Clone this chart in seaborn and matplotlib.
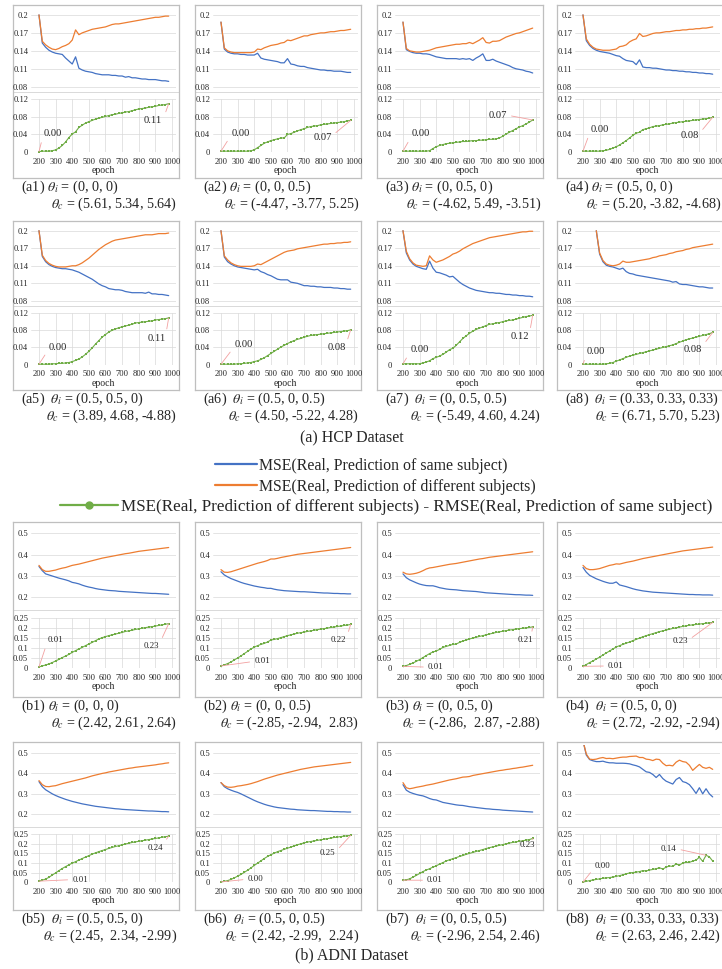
import numpy as np
import pandas as pd
import matplotlib
matplotlib.use("Agg")
import matplotlib.pyplot as plt
import seaborn as sns
from matplotlib.lines import Line2D

sns.set_theme(style="white")
plt.rcParams["font.family"] = ["Liberation Serif", "DejaVu Serif"]
plt.rcParams["mathtext.fontset"] = "stix"

nan = np.nan
epochs = list(range(200, 1000, 20))  # 40 epochs

# ---------------- HCP data ----------------
a1_same = [.200,.153,.146,.141,.138,.136,.135,.134,.128,.123, .118,.130,.111,.108,.106,.105,.104,.102,.101,.100,
           .100,.100,.099,.099,.098,.098,.096,.097,.095,.095, .094,.093,.093,.092,.092,.092,.091,.090,.090,.089]
a1_diff = [.200,.156,.150,.146,.143,.142,.144,.147,.149,.152, .158,.175,.167,.170,.172,.174,.176,.177,.178,.179,
           .180,.182,.184,.185,.185,.186,.187,.188,.189,.190, .191,.192,.193,.194,.195,.196,.196,.197,.198,.198]
a1_gap = [.001,.002,.002,.002,.003,.005,.009,.015,.023,.033, .041,.046,.056,.061,.066,.069,.072,.075,.077,.079,
          .081,.083,.085,.086,.088,.089,.091,.092,.094,.096, .098,.099,.100,.102,.103,.104,.106,.107,.108,.110]

a2_same = [.188,.143,.138,.136,.135,.135,.134,.134,.133,.133, .133,.136,.128,.126,.125,.124,.123,.122,.120,.120,
           .127,.118,.117,.115,.114,.114,.112,.111,.110,.109, .108,.108,.107,.107,.106,.106,.106,.105,.104,.104]
a2_diff = [.188,.145,.140,.138,.137,.137,.137,.137,.137,.137, .138,.143,.142,.145,.147,.149,.150,.151,.153,.154,
           .158,.157,.159,.161,.163,.165,.165,.167,.168,.169, .170,.170,.171,.172,.172,.173,.174,.174,.175,.176]
a2_gap = [.002,.002,.002,.002,.002,.002,.002,.002,.002,.003, .005,.010,.015,.020,.023,.026,.028,.030,.032,.032,
          .040,.042,.045,.048,.051,.053,.056,.058,.059,.060, .062,.063,.064,.065,.066,.067,.068,.069,.071,.072]

a3_same = [.188,.142,.139,.137,.136,.136,.135,.135,.134,.132, .130,.129,.128,.127,.127,.127,.127,.126,.127,.126,
           .127,.124,.128,.131,.135,.124,.124,.126,.123,.121, .119,.117,.115,.112,.110,.109,.108,.106,.105,.103]
a3_diff = [.188,.144,.140,.139,.138,.138,.139,.140,.141,.143, .145,.146,.147,.148,.149,.150,.151,.151,.152,.152,
           .154,.152,.155,.158,.162,.154,.153,.156,.156,.157, .160,.163,.165,.167,.169,.170,.172,.174,.176,.178]
a3_gap = [.002,.002,.002,.002,.002,.002,.002,.002,.003,.008, .012,.015,.017,.019,.020,.021,.022,.023,.024,.024,
          .025,.026,.026,.027,.027,.028,.029,.029,.030,.032, .036,.041,.045,.049,.053,.057,.060,.064,.068,.073]

a4_same = [.200,.157,.149,.144,.141,.139,.138,.137,.136,.134, .132,.131,.127,.124,.123,.122,.117,.125,.113,.112,
           .112,.111,.111,.110,.109,.108,.108,.107,.107,.106, .106,.105,.105,.104,.104,.103,.103,.102,.102,.101]
a4_diff = [.200,.160,.151,.146,.143,.142,.141,.141,.141,.142, .143,.147,.148,.150,.155,.158,.160,.169,.164,.165,
           .167,.169,.170,.170,.171,.172,.172,.173,.174,.174, .175,.175,.176,.176,.177,.177,.178,.178,.179,.180]
a4_gap = [.002,.002,.002,.002,.002,.002,.003,.004,.006,.009, .012,.016,.021,.026,.032,.038,.043,.045,.051,.053,
          .055,.058,.059,.060,.062,.063,.064,.066,.067,.068, .069,.070,.071,.072,.073,.074,.075,.076,.077,.079]

a5_same = [.200,.156,.147,.142,.139,.137,.136,.135,.135,.134, .133,.131,.129,.126,.123,.120,.117,.113,.109,.106,
           .104,.101,.100,.099,.099,.098,.096,.095,.094,.094, .094,.094,.093,.095,.092,.092,.091,.091,.090,.089]
a5_diff = [.200,.158,.149,.144,.141,.139,.138,.138,.138,.139, .140,.140,.142,.145,.149,.153,.158,.163,.168,.172,
           .176,.179,.182,.184,.185,.186,.187,.188,.189,.190, .191,.192,.193,.193,.193,.194,.195,.195,.195,.196]
a5_gap = [.001,.001,.001,.001,.002,.002,.003,.003,.004,.005, .007,.010,.013,.018,.024,.031,.039,.048,.056,.064,
          .070,.076,.080,.083,.086,.088,.090,.092,.094,.097, .098,.099,.100,.101,.102,.104,.105,.106,.107,.109]

a6_same = [.200,.155,.147,.143,.140,.138,.137,.136,.135,.134, .133,.134,.130,.128,.125,.123,.120,.117,.116,.116,
           .116,.112,.111,.110,.108,.106,.106,.105,.105,.104, .104,.103,.103,.103,.102,.102,.101,.101,.100,.100]
a6_diff = [.200,.157,.150,.145,.142,.140,.139,.139,.139,.139, .140,.143,.142,.145,.148,.151,.154,.157,.160,.163,
           .165,.166,.167,.169,.170,.171,.172,.173,.174,.175, .176,.177,.177,.178,.178,.179,.179,.180,.180,.181]
a6_gap = [.001,.001,.001,.001,.001,.002,.002,.003,.004,.005, .007,.009,.012,.016,.021,.026,.031,.036,.041,.045,
          .049,.053,.056,.059,.061,.064,.066,.068,.069,.070, .071,.072,.073,.074,.075,.076,.077,.078,.079,.081]

a7_same = [.200,.162,.150,.143,.139,.137,.135,.134,.148,.136, .129,.128,.126,.124,.121,.122,.117,.112,.108,.105,
           .102,.100,.098,.097,.096,.095,.094,.094,.093,.093, .092,.091,.091,.090,.090,.089,.089,.088,.088,.087]
a7_diff = [.200,.165,.152,.145,.141,.140,.139,.140,.157,.150, .146,.148,.150,.153,.156,.160,.162,.165,.169,.172,
           .175,.178,.180,.182,.184,.186,.188,.189,.190,.191, .192,.193,.194,.195,.196,.197,.198,.198,.199,.199]
a7_gap = [.002,.002,.002,.002,.002,.002,.004,.006,.009,.014, .017,.020,.024,.029,.035,.038,.045,.053,.061,.067,
          .073,.078,.082,.085,.088,.091,.094,.095,.097,.098, .100,.102,.103,.104,.106,.108,.110,.112,.113,.115]

a8_same = [nan,nan,nan,nan,.200,.160,.147,.141,.139,.138, .136,.134,.136,.130,.127,.126,.124,.123,.122,.121,
           .120,.119,.118,.117,.116,.115,.114,.112,.113,.109, .108,.108,.107,.106,.105,.104,.104,.103,.102,.102]
a8_diff = [nan,nan,nan,nan,.200,.162,.149,.143,.141,.140, .141,.143,.148,.146,.146,.147,.148,.149,.150,.151,
           .152,.154,.155,.157,.158,.159,.161,.162,.164,.165, .166,.168,.169,.171,.172,.173,.174,.175,.176,.177]
a8_gap = [.001,.001,.001,.001,.001,.001,.001,.002,.003,.005, .008,.011,.014,.017,.020,.022,.024,.026,.028,.030,
          .032,.034,.036,.038,.040,.042,.044,.046,.049,.052, .055,.058,.060,.062,.064,.066,.068,.070,.072,.075]

# ---------------- ADNI data ----------------
b1_same = [.345,.325,.310,.305,.300,.295,.290,.286,.282,.277, .270,.267,.263,.257,.252,.248,.245,.241,.238,.236,
           .234,.232,.231,.230,.228,.227,.226,.225,.224,.223, .222,.221,.220,.219,.218,.218,.217,.216,.215,.214]
b1_diff = [.350,.330,.322,.322,.325,.328,.333,.337,.340,.345, .350,.353,.356,.360,.364,.368,.372,.376,.380,.384,
           .387,.390,.393,.396,.399,.402,.405,.407,.410,.413, .416,.418,.420,.422,.424,.426,.428,.430,.432,.434]
b1_gap = [.005,.010,.015,.020,.027,.035,.043,.052,.060,.068, .078,.087,.095,.103,.112,.120,.128,.137,.145,.152,
          .157,.162,.166,.170,.174,.178,.183,.186,.189,.193, .196,.199,.202,.205,.207,.210,.213,.216,.219,.222]

b2_same = [.320,.305,.296,.288,.282,.276,.270,.265,.261,.257, .253,.250,.247,.245,.242,.242,.238,.235,.233,.231,
           .230,.229,.228,.227,.226,.226,.225,.224,.223,.222, .221,.220,.220,.219,.218,.218,.217,.217,.216,.216]
b2_diff = [.330,.318,.317,.320,.325,.330,.335,.340,.345,.350, .355,.360,.364,.368,.373,.380,.380,.383,.387,.390,
           .393,.396,.399,.402,.404,.406,.408,.410,.412,.414, .416,.418,.420,.422,.424,.426,.428,.430,.432,.434]
b2_gap = [.010,.015,.022,.030,.040,.050,.060,.072,.083,.095, .104,.112,.118,.123,.130,.140,.143,.147,.152,.157,
          .162,.166,.170,.174,.177,.180,.183,.186,.189,.192, .195,.197,.200,.203,.205,.208,.210,.213,.215,.218]

b3_same = [.310,.292,.282,.275,.268,.262,.258,.255,.254,.254, .250,.245,.242,.239,.237,.236,.235,.233,.231,.230,
           .229,.228,.227,.225,.223,.221,.220,.219,.218,.217, .216,.215,.214,.213,.212,.212,.211,.210,.210,.209]
b3_diff = [.318,.310,.308,.310,.313,.318,.325,.333,.338,.340, .343,.346,.349,.352,.355,.357,.359,.362,.365,.368,
           .371,.374,.377,.380,.382,.385,.388,.390,.392,.394, .396,.398,.400,.402,.404,.406,.408,.410,.412,.414]
b3_gap = [.008,.012,.018,.025,.033,.042,.052,.062,.072,.080, .085,.093,.103,.108,.113,.118,.120,.128,.135,.140,
          .145,.150,.154,.158,.162,.166,.170,.174,.178,.181, .184,.187,.190,.192,.195,.197,.199,.201,.203,.206]

b4_same = [.340,.318,.303,.295,.287,.281,.275,.270,.266,.266, .272,.258,.254,.250,.245,.240,.236,.233,.230,.228,
           .226,.224,.223,.222,.221,.220,.219,.218,.217,.216, .215,.214,.213,.213,.212,.212,.211,.211,.211,.210]
b4_diff = [.350,.335,.330,.330,.332,.335,.340,.345,.350,.353, .357,.356,.360,.364,.367,.370,.374,.378,.382,.385,
           .388,.391,.394,.397,.400,.403,.406,.409,.412,.415, .418,.420,.422,.424,.426,.428,.430,.432,.434,.436]
b4_gap = [.008,.017,.027,.035,.045,.054,.065,.075,.085,.095, .105,.112,.118,.124,.130,.137,.143,.150,.156,.162,
          .167,.172,.177,.182,.186,.190,.194,.198,.201,.205, .208,.211,.214,.216,.218,.220,.222,.224,.226,.228]

b5_same = [.360,.335,.320,.310,.300,.292,.285,.279,.273,.268, .263,.259,.255,.251,.248,.245,.242,.239,.237,.235,
           .233,.231,.229,.227,.226,.224,.223,.222,.221,.220, .219,.218,.217,.216,.216,.215,.214,.213,.213,.212]
b5_diff = [.365,.345,.336,.335,.338,.340,.345,.350,.354,.358, .362,.366,.370,.374,.378,.383,.388,.392,.396,.400,
           .403,.407,.410,.413,.416,.419,.422,.425,.427,.430, .432,.434,.436,.438,.440,.442,.445,.447,.450,.452]
b5_gap = [.005,.010,.016,.025,.037,.048,.060,.071,.081,.090, .099,.107,.115,.123,.131,.138,.146,.153,.159,.165,
          .170,.176,.181,.186,.190,.195,.199,.203,.207,.210, .213,.216,.219,.222,.225,.228,.231,.234,.237,.240]

b6_same = [.355,.335,.325,.318,.312,.307,.300,.292,.284,.276, .268,.261,.255,.249,.244,.240,.236,.233,.231,.229,
           .227,.225,.224,.222,.221,.220,.219,.218,.218,.217, .216,.215,.214,.214,.213,.213,.212,.212,.211,.211]
b6_diff = [.355,.340,.333,.332,.334,.338,.340,.343,.346,.350, .355,.360,.366,.372,.377,.382,.387,.392,.396,.400,
           .404,.408,.412,.416,.420,.423,.426,.429,.432,.434, .436,.438,.440,.442,.444,.446,.448,.450,.452,.454]
b6_gap = [.001,.004,.008,.014,.022,.031,.040,.051,.062,.074, .087,.099,.111,.123,.134,.143,.151,.159,.165,.171,
          .177,.183,.189,.195,.200,.205,.209,.212,.215,.218, .221,.224,.227,.230,.233,.235,.238,.240,.242,.244]

b7_same = [.345,.318,.308,.302,.297,.293,.290,.284,.277,.272, .270,.264,.258,.255,.252,.249,.246,.244,.243,.240,
           .237,.235,.233,.231,.229,.227,.226,.224,.223,.222, .220,.219,.218,.217,.216,.215,.214,.213,.212,.211]
b7_diff = [.355,.330,.325,.328,.332,.335,.338,.342,.345,.348, .352,.356,.360,.364,.368,.371,.374,.378,.382,.383,
           .385,.390,.393,.396,.399,.402,.405,.408,.411,.414, .416,.419,.421,.424,.426,.429,.431,.434,.437,.440]
b7_gap = [.010,.012,.017,.026,.035,.045,.055,.063,.070,.078, .085,.094,.102,.110,.117,.122,.128,.134,.139,.145,
          .150,.155,.160,.165,.170,.175,.180,.184,.188,.192, .196,.200,.204,.207,.210,.213,.216,.219,.222,.228]

b8_same = [.560,.490,.468,.462,.458,.458,.460,.455,.452,.452, .450,.450,.450,.449,.447,.442,.438,.432,.420,.408,
           .405,.395,.380,.395,.375,.362,.355,.348,.370,.380, .360,.355,.345,.325,.302,.330,.300,.325,.300,.285]
b8_diff = [.560,.495,.470,.468,.470,.475,.478,.473,.474,.472, .475,.478,.480,.480,.483,.484,.485,.478,.478,.470,
           .468,.463,.470,.468,.450,.438,.440,.437,.455,.465, .458,.455,.440,.415,.430,.444,.430,.425,.430,.420]
b8_gap = [.000,.004,.008,.011,.014,.017,.020,.022,.024,.026, .030,.034,.038,.043,.048,.050,.052,.055,.060,.058,
          .063,.066,.070,.075,.068,.078,.084,.082,.095,.088, .100,.103,.103,.110,.115,.130,.108,.140,.132,.110]

hcp_top_ticks = [0.08, 0.11, 0.14, 0.17, 0.2]
hcp_top_labels = ["0.08", "0.11", "0.14", "0.17", "0.2"]
hcp_bot_ticks = [0, 0.04, 0.08, 0.12]
hcp_bot_labels = ["0", "0.04", "0.08", "0.12"]
adni_top_ticks = [0.2, 0.3, 0.4, 0.5]
adni_top_labels = ["0.2", "0.3", "0.4", "0.5"]
adni_bot_ticks = [0, 0.05, 0.1, 0.15, 0.2, 0.25]
adni_bot_labels = ["0", "0.05", "0.1", "0.15", "0.2", "0.25"]
epoch_ticks = [200, 300, 400, 500, 600, 700, 800, 900, 1000]

captions1 = [r"(a1) $\theta_i$ = (0, 0, 0)", r"(a2) $\theta_i$ = (0, 0, 0.5)",
             r"(a3) $\theta_i$ = (0, 0.5, 0)", r"(a4) $\theta_i$ = (0.5, 0, 0)",
             r"(a5)  $\theta_i$ = (0.5, 0.5, 0)", r"(a6)  $\theta_i$ = (0.5, 0, 0.5)",
             r"(a7)  $\theta_i$ = (0, 0.5, 0.5)", r"(a8)  $\theta_i$ = (0.33, 0.33, 0.33)",
             r"(b1) $\theta_i$ = (0, 0, 0)", r"(b2) $\theta_i$ = (0, 0, 0.5)",
             r"(b3) $\theta_i$ = (0, 0.5, 0)", r"(b4)  $\theta_i$ = (0.5, 0, 0)",
             r"(b5)  $\theta_i$ = (0.5, 0.5, 0)", r"(b6)  $\theta_i$ = (0.5, 0, 0.5)",
             r"(b7)  $\theta_i$ = (0, 0.5, 0.5)", r"(b8)  $\theta_i$ = (0.33, 0.33, 0.33)"]
captions2 = [r"$\theta_c$ = (5.61, 5.34, 5.64)", r"$\theta_c$ = (-4.47, -3.77, 5.25)",
             r"$\theta_c$ = (-4.62, 5.49, -3.51)", r"$\theta_c$ = (5.20, -3.82, -4.68)",
             r"$\theta_c$ = (3.89, 4.68, -4.88)", r"$\theta_c$ = (4.50, -5.22, 4.28)",
             r"$\theta_c$ = (-5.49, 4.60, 4.24)", r"$\theta_c$ = (6.71, 5.70, 5.23)",
             r"$\theta_c$ = (2.42, 2.61, 2.64)", r"$\theta_c$ = (-2.85, -2.94,  2.83)",
             r"$\theta_c$ = (-2.86,  2.87, -2.88)", r"$\theta_c$ = (2.72, -2.92, -2.94)",
             r"$\theta_c$ = (2.45,  2.34, -2.99)", r"$\theta_c$ = (2.42, -2.99,  2.24)",
             r"$\theta_c$ = (-2.96, 2.54, 2.46)", r"$\theta_c$ = (2.63, 2.46, 2.42)"]

start_labels = ["0.00"] * 8 + ["0.01", "0.01", "0.01", "0.01", "0.01", "0.00", "0.01", "0.00"]
end_labels = ["0.11", "0.07", "0.07", "0.08", "0.11", "0.08", "0.12", "0.08",
              "0.23", "0.22", "0.21", "0.23", "0.24", "0.25", "0.23", "0.14"]

legend_labels = ["MSE(Real, Prediction of same subject)",
                 "MSE(Real, Prediction of different subjects)",
                 "MSE(Real, Prediction of different subjects) - RMSE(Real, Prediction of same subject)"]

same_series = [a1_same, a2_same, a3_same, a4_same, a5_same, a6_same, a7_same, a8_same,
               b1_same, b2_same, b3_same, b4_same, b5_same, b6_same, b7_same, b8_same]
diff_series = [a1_diff, a2_diff, a3_diff, a4_diff, a5_diff, a6_diff, a7_diff, a8_diff,
               b1_diff, b2_diff, b3_diff, b4_diff, b5_diff, b6_diff, b7_diff, b8_diff]
gap_series = [a1_gap, a2_gap, a3_gap, a4_gap, a5_gap, a6_gap, a7_gap, a8_gap,
              b1_gap, b2_gap, b3_gap, b4_gap, b5_gap, b6_gap, b7_gap, b8_gap]

# ---------------- layout (pixels) ----------------
W, H = 722, 969
BLUE, ORANGE, GREEN = "#4472C4", "#ED7D31", "#70AD47"
LEADER = "#F2A0A0"
GRID = "#D9D9D9"
rows = [(5, 173), (221, 169), (522, 175), (742, 168)]
col_left = [13, 195, 377, 557]
BOXW = 166
XLIM = (152, 1024)

start_pos = [(225, .042), (262, .043), (254, .042), (245, .052), (260, .041), (280, .046), (245, .035), (224, .031),
             (250, .138), (400, .033), (350, .004), (350, .010), (400, .013), (360, .015), (345, .010), (270, .085)]
start_rel = [(0, .3)] * 8 + [(0, .3), (0, .5), (0, .5), (0, .5), (0, .5), (0, .5), (0, .5), (0, .3)]
end_pos = [(940, .072), (865, .034), (825, .084), (895, .038), (962, .062), (950, .039), (960, .065), (914, .035),
           (925, .110), (955, .140), (985, .141), (830, .133), (945, .180), (887, .152), (996, .193), (762, .174)]
end_rel = [(1, .3), (1, .6), (1, .5), (1, .6), (1, .8), (1, .8), (1, .8), (1, .8),
           (1, .8), (1, .8), (.85, 1), (1, .6), (1, .9), (1, .6), (.85, 1), (1, .5)]
end_idx = [-1] * 15 + [37]

fig = plt.figure(figsize=(W / 100, H / 100), dpi=100)
fig.patch.set_facecolor("white")


def px_axes(x, y, w, h, **kw):
    return fig.add_axes([x / W, 1 - (y + h) / H, w / W, h / H], **kw)


for p in range(16):
    r, c = divmod(p, 4)
    top, hb = rows[r]
    left = col_left[c]
    adni = p >= 8
    frame = px_axes(left, top, BOXW, hb)
    frame.set_xticks([]); frame.set_yticks([])
    frame.set_xlim(0, 1); frame.set_ylim(0, 1)
    for s in frame.spines.values():
        s.set_color("#BFBFBF"); s.set_linewidth(0.9)
    sep = 0.505
    frame.axhline(1 - sep, color=GRID, lw=0.7)

    if adni:
        t0, t1, tlim, tt, tl = 0.017, 0.503, (0.14, 0.54), adni_top_ticks, adni_top_labels
        b0, b1, blim, bt, bl = 0.549, 0.834, (0, 0.25), adni_bot_ticks, adni_bot_labels
        afs = 6.4
    else:
        t0, t1, tlim, tt, tl = 0.04, 0.49, (0.075, 0.205), hcp_top_ticks, hcp_top_labels
        b0, b1, blim, bt, bl = 0.545, 0.85, (0, 0.12), hcp_bot_ticks, hcp_bot_labels
        afs = 7.6

    axt = px_axes(left + 18, top + t0 * hb, 145, (t1 - t0) * hb)
    axt.set_facecolor("none")
    df_top = pd.DataFrame({"epoch": epochs, "same": same_series[p], "diff": diff_series[p]})
    sns.lineplot(data=df_top, x="epoch", y="same", ax=axt, color=BLUE, lw=0.9, estimator=None)
    sns.lineplot(data=df_top, x="epoch", y="diff", ax=axt, color=ORANGE, lw=0.9, estimator=None)
    axt.set_xlim(*XLIM); axt.set_ylim(*tlim)
    axt.set_xticks([]); axt.set_yticks(tt); axt.set_yticklabels(tl)
    axt.set_xlabel(""); axt.set_ylabel("")
    axt.yaxis.grid(True, color=GRID, lw=0.5); axt.set_axisbelow(True)
    for s in axt.spines.values():
        s.set_visible(False)
    axt.tick_params(axis="y", length=0, pad=2, labelsize=6.1)

    axb = px_axes(left + 18, top + b0 * hb, 145, (b1 - b0) * hb)
    axb.set_facecolor("none")
    df_bot = pd.DataFrame({"epoch": epochs, "gap": gap_series[p]})
    sns.lineplot(data=df_bot, x="epoch", y="gap", ax=axb, color=GREEN, lw=0.8, estimator=None,
                 marker="s", markersize=1.6, markeredgewidth=0, clip_on=False)
    axb.set_xlim(*XLIM); axb.set_ylim(*blim)
    axb.set_yticks(bt); axb.set_yticklabels(bl)
    axb.set_xticks(epoch_ticks); axb.set_xticklabels([str(e) for e in epoch_ticks])
    axb.grid(True, color=GRID, lw=0.5); axb.set_axisbelow(True)
    for s in axb.spines.values():
        s.set_visible(False)
    axb.tick_params(axis="both", length=0, labelsize=6.1)
    axb.tick_params(axis="y", pad=2)
    axb.tick_params(axis="x", pad=4)
    axb.set_ylabel("")
    axb.set_xlabel("epoch", fontsize=7, labelpad=0.3)

    g = gap_series[p]
    axb.annotate(start_labels[p], xy=(epochs[0], g[0]), xytext=start_pos[p], textcoords="data",
                 ha="left", va="center", fontsize=afs, annotation_clip=False,
                 arrowprops=dict(arrowstyle="-", color=LEADER, lw=0.6, shrinkA=1, shrinkB=0,
                                 relpos=start_rel[p]))
    ei = end_idx[p]
    axb.annotate(end_labels[p], xy=(epochs[ei], g[ei]), xytext=end_pos[p], textcoords="data",
                 ha="right", va="center", fontsize=afs, annotation_clip=False,
                 arrowprops=dict(arrowstyle="-", color=LEADER, lw=0.6, shrinkA=1, shrinkB=0,
                                 relpos=end_rel[p]))

    fig.text((left + 8) / W, 1 - (top + hb + 9) / H, captions1[p], ha="left", va="center", fontsize=10.2)
    fig.text((left + 164) / W, 1 - (top + hb + 26) / H, captions2[p], ha="right", va="center", fontsize=10.2)

fig.text(352 / W, 1 - 438 / H, "(a) HCP Dataset", ha="center", va="center", fontsize=11.5)
fig.text(352 / W, 1 - 955 / H, "(b) ADNI Dataset", ha="center", va="center", fontsize=11.5)

handles = [Line2D([], [], color=BLUE, lw=1.6),
           Line2D([], [], color=ORANGE, lw=1.6),
           Line2D([], [], color=GREEN, lw=1.6, marker="o", markersize=5)]
leg_pos = [(215, 466, 42, 11.4), (215, 487, 42, 11.4), (60, 507, 58, 12.3)]
for h_, lab, (lx, ly, ll, fs) in zip(handles, legend_labels, leg_pos):
    em = fs * 100 / 72
    fig.legend([h_], [lab], loc="center left", bbox_to_anchor=(lx / W, 1 - ly / H),
               frameon=False, fontsize=fs, borderpad=0, borderaxespad=0,
               handlelength=ll / em, handletextpad=0.15)

fig.savefig("out.png", dpi=100, facecolor="white")
